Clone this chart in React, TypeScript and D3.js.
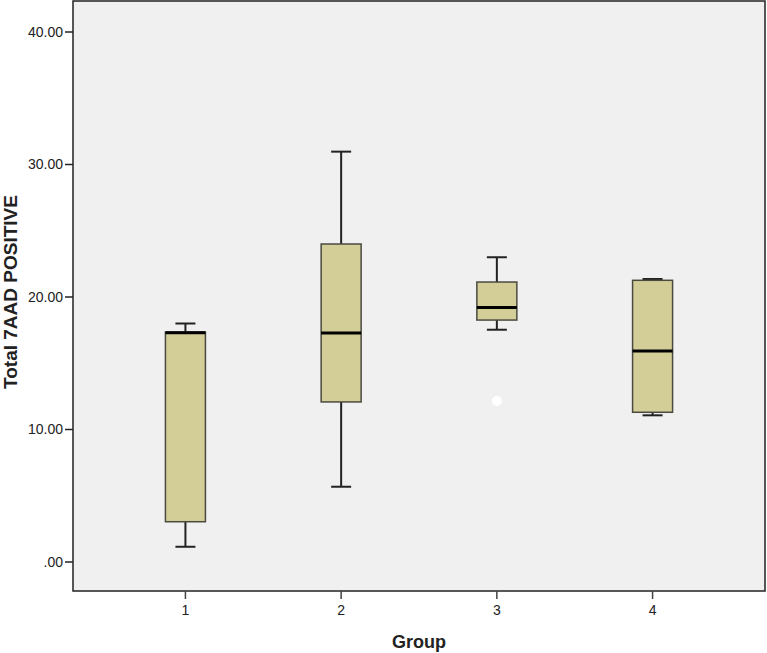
import React from "react";
import * as d3 from "d3";

const groups = ["1", "2", "3", "4"];
const whiskerLow = [1.15, 5.68, 17.53, 11.07];
const q1 = [3.04, 12.08, 18.26, 11.3];
const medians = [17.3, 17.28, 19.2, 15.92];
const q3 = [17.36, 24.0, 21.13, 21.26];
const whiskerHigh = [18.0, 30.97, 23.0, 21.36];
const outlierGroups = ["3"];
const outlierValues = [12.15];
const yTicks = [0, 10, 20, 30, 40];

const W = 767;
const H = 653;
const left = 73;
const right = 765;
const top = 1;
const bottom = 591;

export default function App() {
  const x = d3.scalePoint<string>().domain(groups).range([left, right]).padding(0.722);
  const y = d3.scaleLinear().domain([0, 40]).range([562, 32]);
  const boxW = 40;
  const capW = 20;
  const fmt = (v: number) => (v === 0 ? ".00" : d3.format(".2f")(v));
  return (
    <svg width={W} height={H} style={{ position: "absolute", left: 0, top: 0, fontFamily: "Arial, 'Liberation Sans', sans-serif" }}>
      <rect x={0} y={0} width={W} height={H} fill="#ffffff" />
      <rect x={left} y={top} width={right - left} height={bottom - top} fill="#f0f0f0" stroke="#222" strokeWidth={1.5} />
      {yTicks.map((t) => (
        <g key={t}>
          <line x1={left - 8} x2={left} y1={y(t)} y2={y(t)} stroke="#222" strokeWidth={1.5} />
          <text x={left - 10} y={y(t)} dy="0.35em" textAnchor="end" fontSize={14} fill="#222">
            {fmt(t)}
          </text>
        </g>
      ))}
      {groups.map((g) => (
        <g key={"xt" + g}>
          <line x1={x(g)!} x2={x(g)!} y1={bottom} y2={bottom + 8} stroke="#444" strokeWidth={1.5} />
          <text x={x(g)!} y={bottom + 24} textAnchor="middle" fontSize={14} fill="#222">
            {g}
          </text>
        </g>
      ))}
      {groups.map((g, i) => {
        const cx = x(g)!;
        return (
          <g key={"b" + g}>
            <line x1={cx} x2={cx} y1={y(whiskerHigh[i])} y2={y(q3[i])} stroke="#222" strokeWidth={2} />
            <line x1={cx} x2={cx} y1={y(q1[i])} y2={y(whiskerLow[i])} stroke="#222" strokeWidth={2} />
            <line x1={cx - capW / 2} x2={cx + capW / 2} y1={y(whiskerHigh[i])} y2={y(whiskerHigh[i])} stroke="#222" strokeWidth={2} />
            <line x1={cx - capW / 2} x2={cx + capW / 2} y1={y(whiskerLow[i])} y2={y(whiskerLow[i])} stroke="#222" strokeWidth={2} />
            <rect
              x={cx - boxW / 2}
              y={y(q3[i])}
              width={boxW}
              height={y(q1[i]) - y(q3[i])}
              fill="#d3ce98"
              stroke="#4a4a40"
              strokeWidth={1.5}
            />
            <line x1={cx - boxW / 2} x2={cx + boxW / 2} y1={y(medians[i])} y2={y(medians[i])} stroke="#000" strokeWidth={3} />
          </g>
        );
      })}
      {outlierGroups.map((g, i) => (
        <circle key={"o" + i} cx={x(g)!} cy={y(outlierValues[i])} r={5} fill="#ffffff" />
      ))}
      <text x={419} y={648} textAnchor="middle" fontSize={18} fontWeight="bold" fill="#222">
        Group
      </text>
      <text
        transform={`translate(10, 292) rotate(-90)`}
        textAnchor="middle"
        dy="0.35em"
        fontSize={19}
        fontWeight="bold"
        fill="#222"
      >
        Total 7AAD POSITIVE
      </text>
    </svg>
  );
}
